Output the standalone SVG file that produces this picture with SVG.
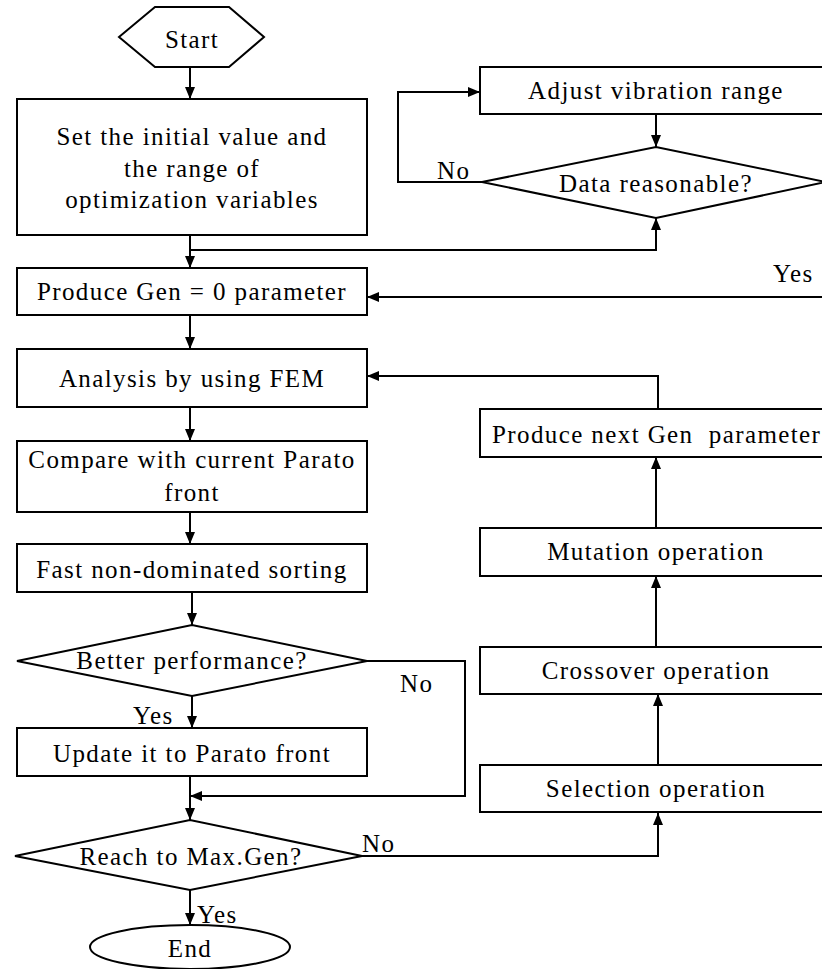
<svg xmlns="http://www.w3.org/2000/svg" width="822" height="969" viewBox="0 0 822 969" font-family="Liberation Serif, Times New Roman, serif" font-size="25" letter-spacing="1.4">
<style>
.s{fill:#fff;stroke:#000;stroke-width:2}
.c{fill:none;stroke:#000;stroke-width:2}
.m{text-anchor:middle}
</style>
<defs>
<marker id="ah" markerUnits="userSpaceOnUse" markerWidth="12" markerHeight="12" viewBox="0 0 12 12" refX="12" refY="6" orient="auto">
<path d="M0,1 L12,6 L0,11 z" fill="#000"/>
</marker>
</defs>
<rect width="822" height="969" fill="#fff"/>
<g id="connectors">
<path class="c" d="M190,67 V99" marker-end="url(#ah)"/>
<path class="c" d="M190,235 V268" marker-end="url(#ah)"/>
<path class="c" d="M190,250 H656 V218" marker-end="url(#ah)"/>
<path class="c" d="M482,182 H398 V92 H480" marker-end="url(#ah)"/>
<path class="c" d="M656,114 V147" marker-end="url(#ah)"/>
<path class="c" d="M830,297 H367" marker-end="url(#ah)"/>
<path class="c" d="M190,315 V349" marker-end="url(#ah)"/>
<path class="c" d="M658,409 V376 H367" marker-end="url(#ah)"/>
<path class="c" d="M190,407 V441" marker-end="url(#ah)"/>
<path class="c" d="M190,512 V544" marker-end="url(#ah)"/>
<path class="c" d="M192,592 V625" marker-end="url(#ah)"/>
<path class="c" d="M192,696 V728" marker-end="url(#ah)"/>
<path class="c" d="M367,661 H465 V796 H190" marker-end="url(#ah)"/>
<path class="c" d="M190,776 V820" marker-end="url(#ah)"/>
<path class="c" d="M362,856 H658 V813" marker-end="url(#ah)"/>
<path class="c" d="M658,765 V694" marker-end="url(#ah)"/>
<path class="c" d="M656,647 V576" marker-end="url(#ah)"/>
<path class="c" d="M656,528 V457" marker-end="url(#ah)"/>
<path class="c" d="M190,890 V925" marker-end="url(#ah)"/>
</g>
<g id="start">
<polygon class="s" points="119,37 155,7 229,7 264,37 229,67 155,67"/>
<text class="m" x="192" y="48">Start</text>
</g>
<g id="init">
<rect class="s" x="17" y="99" width="350" height="136"/>
<text class="m" x="192" y="145">Set the initial value and</text>
<text class="m" x="192" y="177">the range of</text>
<text class="m" x="192" y="208">optimization variables</text>
</g>
<g id="adjust">
<rect class="s" x="480" y="67" width="350" height="47"/>
<text class="m" x="656" y="99">Adjust vibration range</text>
</g>
<g id="datacheck">
<polygon class="s" points="482,182 656,147 826,182 656,218"/>
<text class="m" x="656" y="192">Data reasonable?</text>
</g>
<g id="gen0">
<rect class="s" x="17" y="268" width="350" height="47"/>
<text class="m" x="192" y="300">Produce Gen = 0 parameter</text>
</g>
<g id="fem">
<rect class="s" x="17" y="349" width="350" height="58"/>
<text class="m" x="192" y="387">Analysis by using FEM</text>
</g>
<g id="compare">
<rect class="s" x="17" y="441" width="350" height="71"/>
<text class="m" x="192" y="468">Compare with current Parato</text>
<text class="m" x="192" y="501">front</text>
</g>
<g id="sorting">
<rect class="s" x="17" y="544" width="350" height="48"/>
<text class="m" x="192" y="578">Fast non-dominated sorting</text>
</g>
<g id="better">
<polygon class="s" points="17,661 192,625 367,661 192,696"/>
<text class="m" x="192" y="669">Better performance?</text>
</g>
<g id="update">
<rect class="s" x="17" y="728" width="350" height="48"/>
<text class="m" x="192" y="762">Update it to Parato front</text>
</g>
<g id="maxgen">
<polygon class="s" points="15,856 190,820 362,856 190,890"/>
<text class="m" x="191" y="865">Reach to Max.Gen?</text>
</g>
<g id="end">
<ellipse class="s" cx="190" cy="947" rx="100" ry="22"/>
<text class="m" x="190" y="957">End</text>
</g>
<g id="nextgen">
<rect class="s" x="480" y="409" width="350" height="48"/>
<text x="492" y="443" xml:space="preserve">Produce next Gen  parameter</text>
</g>
<g id="mutation">
<rect class="s" x="480" y="528" width="350" height="48"/>
<text class="m" x="656" y="560">Mutation operation</text>
</g>
<g id="crossover">
<rect class="s" x="480" y="647" width="350" height="47"/>
<text class="m" x="656" y="679">Crossover operation</text>
</g>
<g id="selection">
<rect class="s" x="480" y="765" width="350" height="47"/>
<text class="m" x="656" y="797">Selection operation</text>
</g>
<g id="labels">
<text x="437" y="179">No</text>
<text x="773" y="282">Yes</text>
<text x="400" y="692">No</text>
<text x="133" y="724">Yes</text>
<text x="362" y="852">No</text>
<text x="197" y="923">Yes</text>
</g>
</svg>
